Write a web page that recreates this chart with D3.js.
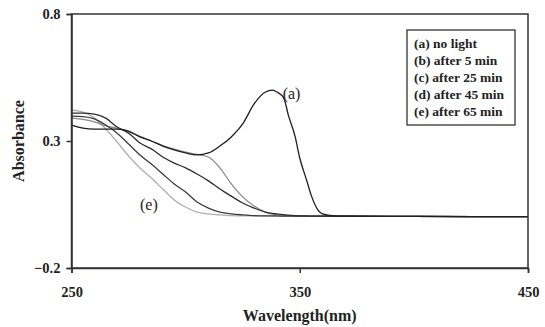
<!DOCTYPE html>
<html>
<head>
<meta charset="utf-8">
<script src="https://cdn.jsdelivr.net/npm/d3@7/dist/d3.min.js"></script>
<style>
  html, body { margin: 0; padding: 0; background: #fff; }
  svg { display: block; }
  text { font-family: "Liberation Serif", "Times New Roman", serif; }
</style>
</head>
<body>
<svg id="chart" width="545" height="327"></svg>
<script>
// ---- data ----
const wavelengths = [250, 255, 260, 265, 270, 275, 280, 285, 290, 295, 300, 305, 310, 315, 320, 325, 330, 335, 338, 340, 343, 345, 348, 350, 353, 355, 358, 360, 365, 370, 400, 450];
const seriesA = [0.363, 0.351, 0.347, 0.347, 0.347, 0.339, 0.316, 0.300, 0.280, 0.265, 0.253, 0.245, 0.253, 0.280, 0.316, 0.367, 0.446, 0.493, 0.500, 0.493, 0.469, 0.402, 0.316, 0.233, 0.146, 0.087, 0.028, 0.013, 0.005, 0.004, 0.003, 0.002];
const seriesB = [0.390, 0.385, 0.375, 0.360, 0.350, 0.338, 0.318, 0.300, 0.282, 0.268, 0.256, 0.247, 0.237, 0.194, 0.131, 0.080, 0.044, 0.020, 0.012, 0.009, 0.007, 0.006, 0.005, 0.005, 0.004, 0.004, 0.004, 0.004, 0.004, 0.004, 0.003, 0.002];
const seriesC = [0.410, 0.410, 0.406, 0.390, 0.355, 0.331, 0.292, 0.269, 0.237, 0.213, 0.194, 0.170, 0.143, 0.111, 0.083, 0.056, 0.036, 0.020, 0.015, 0.013, 0.010, 0.008, 0.006, 0.005, 0.005, 0.004, 0.004, 0.004, 0.004, 0.004, 0.003, 0.002];
const seriesD = [0.398, 0.396, 0.387, 0.363, 0.331, 0.288, 0.245, 0.209, 0.170, 0.131, 0.099, 0.060, 0.036, 0.020, 0.013, 0.009, 0.006, 0.005, 0.005, 0.005, 0.004, 0.004, 0.004, 0.004, 0.004, 0.004, 0.004, 0.004, 0.004, 0.004, 0.003, 0.002];
const seriesE = [0.422, 0.414, 0.391, 0.347, 0.296, 0.241, 0.194, 0.154, 0.111, 0.068, 0.040, 0.020, 0.013, 0.009, 0.006, 0.005, 0.005, 0.005, 0.004, 0.004, 0.004, 0.004, 0.004, 0.004, 0.004, 0.004, 0.004, 0.004, 0.004, 0.004, 0.003, 0.002];
const seriesNames = ["(a) no light", "(b) after 5 min", "(c) after 25 min", "(d) after 45 min", "(e) after 65 min"];
const seriesColors = ["#1e1e1e", "#8a8a8a", "#2e2e2e", "#3c3c3c", "#b0b0b0"];
const xTicks = [250, 350, 450];
const yTicks = [-0.2, 0.3, 0.8];
const xLabel = "Wavelength(nm)";
const yLabel = "Absorbance";

// ---- chart ----
const svg = d3.select("#chart");
const plot = { left: 71.5, right: 528, top: 14, bottom: 268 };

const x = d3.scaleLinear().domain([250, 450]).range([plot.left, plot.right]);
const y = d3.scaleLinear().domain([-0.2, 0.8]).range([plot.bottom, plot.top]);

const allSeries = [seriesA, seriesB, seriesC, seriesD, seriesE];

const line = d3.line()
  .x((d, i) => x(wavelengths[i]))
  .y(d => y(d))
  .curve(d3.curveMonotoneX);

// draw lines (lighter first so darker lie on top)
const order = [4, 1, 3, 2, 0];
svg.append("g")
  .selectAll("path")
  .data(order)
  .join("path")
  .attr("d", i => line(allSeries[i]))
  .attr("fill", "none")
  .attr("stroke", i => seriesColors[i])
  .attr("stroke-width", 1.3);

// frame
svg.append("rect")
  .attr("x", plot.left).attr("y", plot.top)
  .attr("width", plot.right - plot.left).attr("height", plot.bottom - plot.top)
  .attr("fill", "none").attr("stroke", "#333").attr("stroke-width", 1.5);

// axes
const xAxis = d3.axisBottom(x).tickValues(xTicks).tickFormat(d3.format("d")).tickSize(5).tickPadding(14);
const yAxis = d3.axisLeft(y).tickValues(yTicks).tickFormat(d => d3.format(".1f")(d)).tickSize(5).tickPadding(6);

const gx = svg.append("g").attr("transform", `translate(0,${plot.bottom})`).call(xAxis);
const gy = svg.append("g").attr("transform", `translate(${plot.left},0)`).call(yAxis);
[gx, gy].forEach(g => {
  g.select(".domain").attr("stroke", "#333").attr("stroke-width", 1.5);
  g.selectAll(".tick line").attr("stroke", "#333").attr("stroke-width", 1.5);
  g.selectAll(".tick text")
    .attr("fill", "#222")
    .style("font-family", "'Liberation Serif', serif")
    .style("font-weight", "bold")
    .style("font-size", "14.5px");
});

// axis titles
svg.append("text")
  .attr("x", x(350)).attr("y", 321)
  .attr("text-anchor", "middle")
  .style("font-weight", "bold").style("font-size", "16px").attr("fill", "#222")
  .text(xLabel);

svg.append("text")
  .attr("transform", `translate(24,${y(0.3)}) rotate(-90)`)
  .attr("text-anchor", "middle")
  .style("font-weight", "bold").style("font-size", "16px").attr("fill", "#222")
  .text(yLabel);

// legend
const lg = svg.append("g");
lg.append("rect")
  .attr("x", 407).attr("y", 30).attr("width", 108).attr("height", 95)
  .attr("fill", "#fff").attr("stroke", "#333").attr("stroke-width", 1.3);
lg.selectAll("text")
  .data(seriesNames)
  .join("text")
  .attr("x", 414)
  .attr("y", (d, i) => 47.5 + i * 17)
  .style("font-weight", "bold").style("font-size", "13.5px").attr("fill", "#222")
  .text(d => d);

// curve labels
svg.append("text")
  .attr("x", x(342.5)).attr("y", 99)
  .style("font-size", "16px").attr("fill", "#222")
  .text("(a)");
svg.append("text")
  .attr("x", x(280)).attr("y", 210)
  .style("font-size", "16px").attr("fill", "#222")
  .text("(e)");
</script>
</body>
</html>
